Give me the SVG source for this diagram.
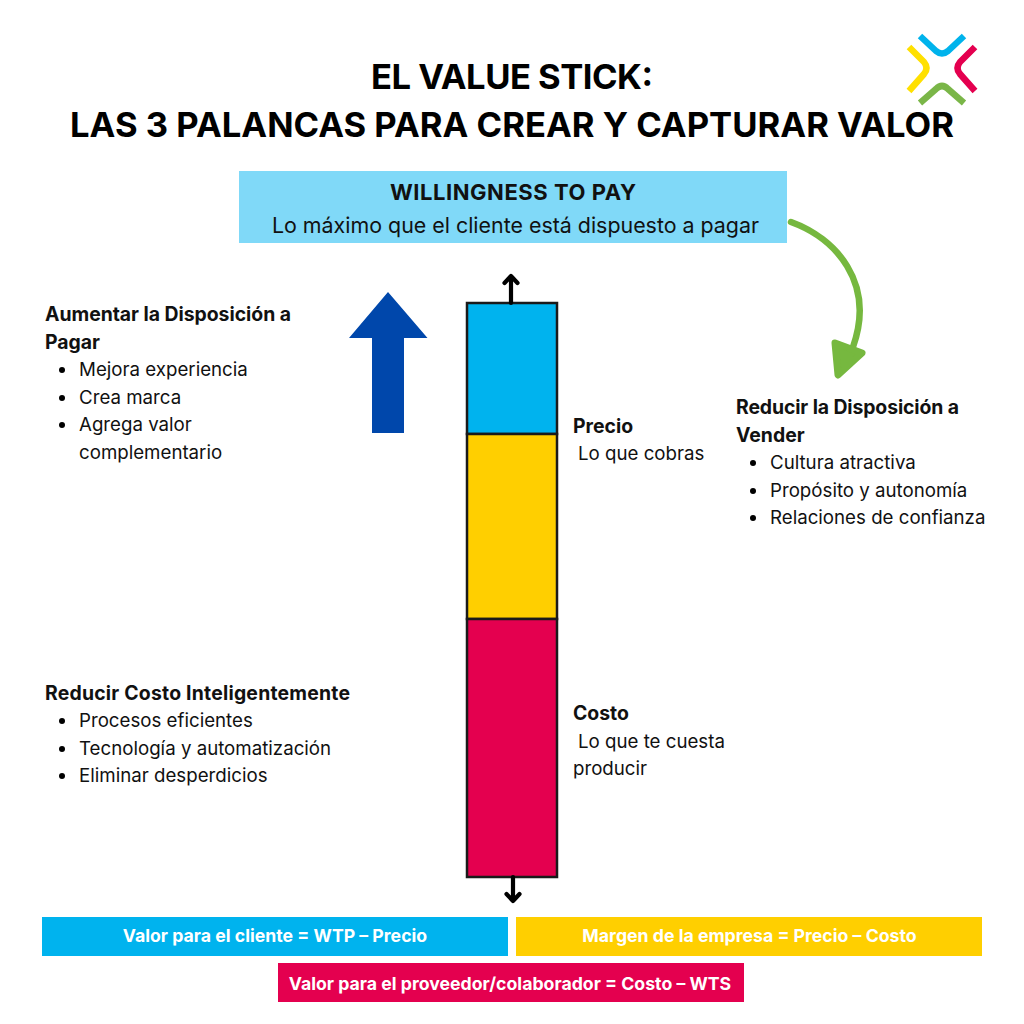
<svg xmlns="http://www.w3.org/2000/svg" width="1024" height="1024" viewBox="0 0 1024 1024">
<style>
text{font-family:"Inter","Liberation Sans",sans-serif;fill:#111}
.t{font-size:34.6px;font-weight:700;text-anchor:middle;fill:#000}
.h{font-size:19.4px;font-weight:700}
.b{font-size:18.7px;font-weight:400}
.w{font-size:17.7px;font-weight:700;fill:#fff;text-anchor:middle}
.l{fill:none;stroke-width:6.500;stroke-linecap:butt;stroke-linejoin:round}
.k{fill:none;stroke:#000;stroke-width:4.200;stroke-linecap:round;stroke-linejoin:round}
.s{stroke:#1a1a1a;stroke-width:2.500}
</style>
<rect width="1024" height="1024" fill="#fff"/>
<g id="logo">
<path class="l" stroke="#00b3ec" d="M920 36L936 51Q942 56 948 51L964 36"/>
<path class="l" stroke="#ffe000" d="M909 47L924 62Q929 68 924 74L909 91"/>
<path class="l" stroke="#e4004f" d="M975 47L960 62Q955 68 960 74L975 91"/>
<path class="l" stroke="#7ab648" d="M920 103L936 89Q942 83 948 89L964 103"/>
</g>
<g id="title">
<text class="t" x="512" y="88.500" textLength="282">EL VALUE STICK:</text>
<text class="t" x="512" y="136.500" textLength="884">LAS 3 PALANCAS PARA CREAR Y CAPTURAR VALOR</text>
</g>
<g id="wtp">
<rect x="239" y="171" width="548" height="72" fill="#80d9f8"/>
<text x="513" y="200" text-anchor="middle" textLength="246" style="font-size:22px;font-weight:700">WILLINGNESS TO PAY</text>
<text x="515.500" y="233" text-anchor="middle" style="font-size:21.400px">Lo máximo que el cliente está dispuesto a pagar</text>
</g>
<g id="stick">
<rect class="s" x="467" y="303" width="90" height="131" fill="#00b3ee"/>
<rect class="s" x="467" y="434" width="90" height="185" fill="#ffcf00"/>
<rect class="s" x="467" y="619" width="90" height="258" fill="#e4004f"/>
</g>
<g id="connectors">
<path class="k" d="M511 303V276M504.500 283L511 276L517.500 283"/>
<path class="k" d="M513 877V901M506.500 894L513 901L519.500 894"/>
<path fill="none" stroke="#76b83f" stroke-width="6.500" stroke-linecap="round" d="M791 222C835 238 876 282 853 347"/>
<path fill="#76b83f" stroke="#76b83f" stroke-width="7" stroke-linejoin="round" d="M835 343L862 353L838 375Z"/>
<path fill="#0047ab" d="M388 292L427.500 338H404V433H372V338H349Z"/>
</g>
<g id="aumentar">
<text class="h" x="45" y="321" textLength="246">Aumentar la Disposición a</text>
<text class="h" x="45" y="349">Pagar</text>
<circle cx="62" cy="370" r="3"/><text class="b" x="79" y="376">Mejora experiencia</text>
<circle cx="62" cy="398" r="3"/><text class="b" x="79" y="404">Crea marca</text>
<circle cx="62" cy="425" r="3"/><text class="b" x="79" y="431">Agrega valor</text>
<text class="b" x="79" y="459">complementario</text>
</g>
<g id="reducir-costo">
<text class="h" x="45" y="700" textLength="305">Reducir Costo Inteligentemente</text>
<circle cx="62" cy="721" r="3"/><text class="b" x="79" y="727">Procesos eficientes</text>
<circle cx="62" cy="749" r="3"/><text class="b" x="79" y="755">Tecnología y automatización</text>
<circle cx="62" cy="776" r="3"/><text class="b" x="79" y="782">Eliminar desperdicios</text>
</g>
<g id="precio">
<text class="h" x="573" y="433">Precio</text>
<text class="b" x="578" y="460">Lo que cobras</text>
</g>
<g id="costo">
<text class="h" x="573" y="720">Costo</text>
<text class="b" x="578" y="748">Lo que te cuesta</text>
<text class="b" x="573" y="775">producir</text>
</g>
<g id="reducir-wts">
<text class="h" x="736" y="414" textLength="223">Reducir la Disposición a</text>
<text class="h" x="736" y="442">Vender</text>
<circle cx="753" cy="463" r="3"/><text class="b" x="770" y="469">Cultura atractiva</text>
<circle cx="753" cy="491" r="3"/><text class="b" x="770" y="497">Propósito y autonomía</text>
<circle cx="753" cy="518" r="3"/><text class="b" x="770" y="524">Relaciones de confianza</text>
</g>
<g id="valor-cliente">
<rect x="42" y="917" width="466" height="39" fill="#00b3ee"/>
<text class="w" x="275" y="942">Valor para el cliente = WTP – Precio</text>
</g>
<g id="margen">
<rect x="516" y="917" width="466" height="39" fill="#ffcf00"/>
<text class="w" x="749.500" y="942">Margen de la empresa = Precio – Costo</text>
</g>
<g id="valor-proveedor">
<rect x="278" y="963" width="466" height="39" fill="#e4004f"/>
<text class="w" x="510" y="990">Valor para el proveedor/colaborador = Costo – WTS</text>
</g>
</svg>
